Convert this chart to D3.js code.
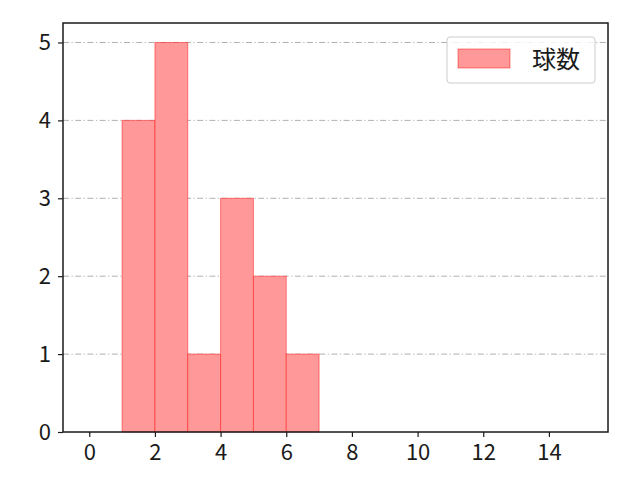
<!DOCTYPE html>
<html>
<head>
<meta charset="utf-8">
<script src="https://cdn.jsdelivr.net/npm/d3@7"></script>
<style>
  body { margin: 0; background: #fff; }
  text { font-family: "Noto Sans CJK JP", "DejaVu Sans", sans-serif; }
</style>
</head>
<body>
<script>
"use strict";

const binStarts = [1, 2, 3, 4, 5, 6];
const counts = [4, 5, 1, 3, 2, 1];
const xTicks = [0, 2, 4, 6, 8, 10, 12, 14];
const yTicks = [0, 1, 2, 3, 4, 5];
const seriesName = "球数";

const m = { width: 640, height: 480, left: 63, right: 608, top: 23, bottom: 432 };

const svg = d3
  .select("body")
  .append("svg")
  .attr("width", m.width)
  .attr("height", m.height);

const x = d3.scaleLinear().domain([-0.8, 15.8]).range([m.left, m.right]);
const y = d3.scaleLinear().domain([0, 5.25]).range([m.bottom, m.top]);

// grid
svg.append("g")
  .selectAll("line")
  .data(yTicks.filter(d => d > 0))
  .enter()
  .append("line")
  .attr("x1", m.left)
  .attr("x2", m.right)
  .attr("y1", d => y(d))
  .attr("y2", d => y(d))
  .attr("stroke", "#b0b0b0")
  .attr("stroke-width", 1)
  .attr("stroke-dasharray", "6,2.5,1.2,2.5");

// bars
svg.append("g")
  .selectAll("rect")
  .data(binStarts)
  .enter()
  .append("rect")
  .attr("x", d => x(d))
  .attr("y", (d, i) => y(counts[i]))
  .attr("width", d => x(d + 1) - x(d))
  .attr("height", (d, i) => y(0) - y(counts[i]))
  .attr("fill", "#ff9999")
  .attr("stroke", "rgba(255,0,0,0.45)")
  .attr("stroke-width", 1);

const fontSize = 22;

const xAxis = svg.append("g")
  .attr("transform", `translate(0,${m.bottom})`)
  .call(d3.axisBottom(x).tickValues(xTicks).tickSize(5).tickPadding(7).tickFormat(d3.format("d")));
const yAxis = svg.append("g")
  .attr("transform", `translate(${m.left},0)`)
  .call(d3.axisLeft(y).tickValues(yTicks).tickSize(5).tickPadding(7).tickFormat(d3.format("d")));

[xAxis, yAxis].forEach(a => {
  a.select(".domain").remove();
  a.selectAll(".tick line").attr("stroke", "#1a1a1a").attr("stroke-width", 1.2);
  a.selectAll(".tick text")
    .attr("fill", "#1a1a1a")
    .style("font-size", fontSize + "px")
    .style("font-family", "'Noto Sans CJK JP', sans-serif");
});

// frame
svg.append("rect")
  .attr("x", m.left)
  .attr("y", m.top)
  .attr("width", m.right - m.left)
  .attr("height", m.bottom - m.top)
  .attr("fill", "none")
  .attr("stroke", "#1a1a1a")
  .attr("stroke-width", 1.5);

// legend
const lg = svg.append("g");
lg.append("rect")
  .attr("x", 447)
  .attr("y", 37)
  .attr("width", 148)
  .attr("height", 46)
  .attr("rx", 3)
  .attr("fill", "#fff")
  .attr("fill-opacity", 0.8)
  .attr("stroke", "#cccccc");
lg.append("rect")
  .attr("x", 458)
  .attr("y", 49)
  .attr("width", 52)
  .attr("height", 19)
  .attr("fill", "#ff9999")
  .attr("stroke", "rgba(255,0,0,0.45)");
lg.append("text")
  .attr("x", 532)
  .attr("y", 68)
  .attr("fill", "#1a1a1a")
  .style("font-size", "24px")
  .text(seriesName);
</script>
</body>
</html>
